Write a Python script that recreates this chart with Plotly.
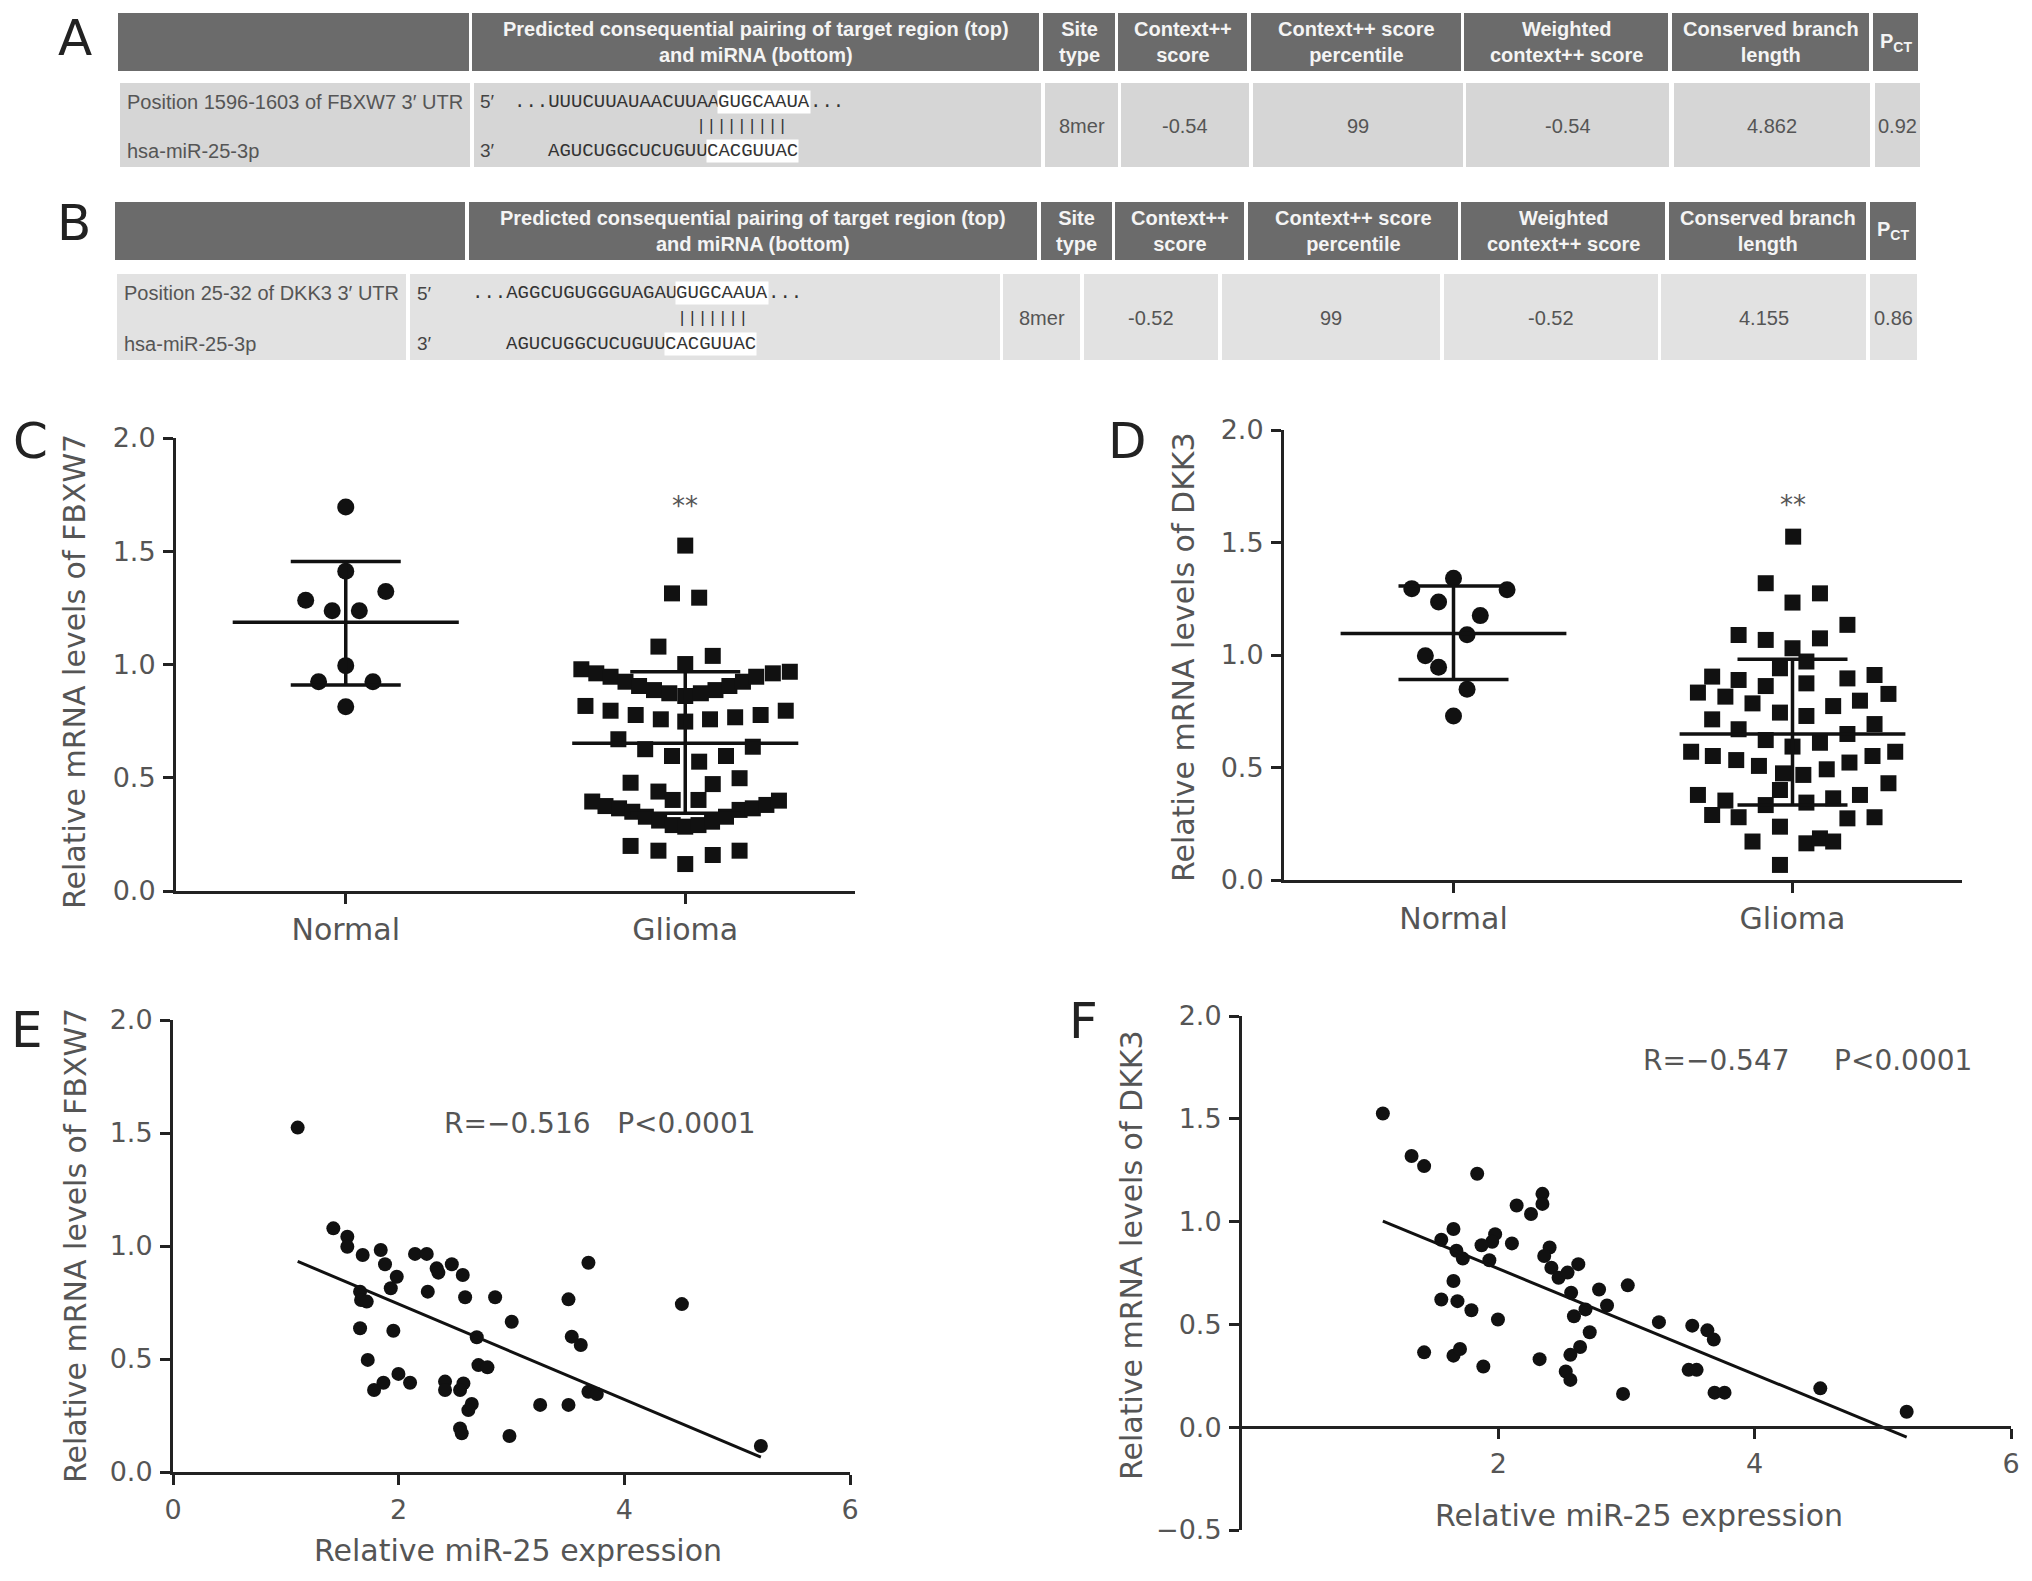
import plotly.graph_objects as go

# reference canvas is 2032x1581; the page body keeps an 8 px margin, so the
# figure is drawn 16 px smaller and every reference pixel is shifted by 8
W, H = 2032, 1581
PAD = 8
FW, FH = W - 2 * PAD, H - 2 * PAD
SANS = "DejaVu Sans"
TAB = "Liberation Sans"
MONO = "Liberation Mono"
MONO_SIZE = 19
CW = 0.6 * MONO_SIZE  # monospace advance width in px
INK = "#111111"
GREY = "#555555"

# ---------------- panels A / B : TargetScan tables ----------------
header_labels = ["", "Predicted consequential pairing of target region (top)<br>and miRNA (bottom)",
                 "Site<br>type", "Context++<br>score", "Context++ score<br>percentile",
                 "Weighted<br>context++ score", "Conserved branch<br>length", "P<sub>CT</sub>"]
site_a = ["Position 1596-1603 of FBXW7 3′ UTR", "hsa-miR-25-3p"]
site_b = ["Position 25-32 of DKK3 3′ UTR", "hsa-miR-25-3p"]
utr_a = [("...UUUCUUAUAACUUAA", False), ("GUGCAAUA", True), ("...", False)]
utr_b = [("...AGGCUGUGGGUAGAU", False), ("GUGCAAUA", True), ("...", False)]
mirna = [("AGUCUGGCUCUGUU", False), ("CACGUUAC", True)]
values_a = ["8mer", "-0.54", "99", "-0.54", "4.862", "0.92"]
values_b = ["8mer", "-0.52", "99", "-0.52", "4.155", "0.86"]

# ---------------- panel C / D : scatter dot plots ----------------
groups = ["Normal", "Glioma"]

c_normal_dx = [0.0, 0.0, 0.118, -0.118, -0.040, 0.040, 0.0, -0.080, 0.080, 0.0]
c_normal_y = [1.695, 1.412, 1.322, 1.284, 1.237, 1.237, 0.995, 0.924, 0.924, 0.813]
c_glioma_dx = [0.0, -0.039, 0.041, -0.079, 0.081, 0.0,
               -0.306, -0.262, -0.220, -0.176, -0.136, -0.092, -0.047, 0.0, 0.046, 0.089, 0.130, 0.170, 0.209, 0.258, 0.308,
               -0.294, -0.220, -0.146, -0.072, 0.0, 0.073, 0.147, 0.222, 0.296,
               -0.197, -0.118, -0.039, 0.041, 0.120, 0.199,
               -0.161, -0.079, -0.037, 0.039, 0.081, 0.160,
               -0.274, -0.235, -0.195, -0.156, -0.116, -0.077, -0.037, 0.0, 0.039, 0.079, 0.120, 0.160, 0.199, 0.239, 0.276,
               -0.161, -0.079, 0.0, 0.081, 0.160]
c_glioma_y = [1.525, 1.314, 1.295, 1.079, 1.038, 1.002,
              0.979, 0.961, 0.946, 0.924, 0.905, 0.887, 0.873, 0.861, 0.873, 0.887, 0.905, 0.924, 0.946, 0.961, 0.968,
              0.817, 0.796, 0.777, 0.758, 0.748, 0.758, 0.767, 0.777, 0.796,
              0.670, 0.626, 0.596, 0.571, 0.596, 0.637,
              0.478, 0.439, 0.402, 0.402, 0.472, 0.498,
              0.395, 0.375, 0.365, 0.350, 0.328, 0.311, 0.291, 0.284, 0.291, 0.306, 0.328, 0.358, 0.365, 0.380, 0.399,
              0.199, 0.178, 0.119, 0.159, 0.178]
c_mean = [1.187, 0.652]
c_upper = [1.455, 0.968]
c_lower = [0.910, 0.343]

d_normal_dx = [0.0, -0.123, 0.158, -0.044, 0.079, 0.040, -0.083, -0.044, 0.040, 0.0]
d_normal_y = [1.341, 1.295, 1.290, 1.236, 1.175, 1.090, 0.997, 0.946, 0.848, 0.729]
d_glioma_dx = [0.002, -0.079, 0.081, 0.0, 0.162, -0.159, -0.079, 0.081, 0.0, 0.041,
               -0.037, -0.237, -0.159, 0.041, 0.162, 0.242, -0.279, -0.198, -0.079, -0.118,
               0.120, 0.199, 0.283, -0.037, 0.041, -0.237, 0.242, -0.159, -0.079, 0.162,
               0.081, 0.0, -0.299, -0.235, -0.166, -0.099, 0.101, 0.168, 0.236, 0.303,
               -0.028, 0.032, -0.037, 0.283, -0.279, -0.198, -0.079, 0.041, 0.120, 0.199,
               -0.237, -0.159, 0.162, 0.242, -0.037, -0.118, 0.041, 0.081, 0.120, -0.037]
d_glioma_y = [1.526, 1.319, 1.274, 1.233, 1.134, 1.089, 1.067, 1.074, 1.030, 0.971,
              0.941, 0.904, 0.889, 0.874, 0.896, 0.911, 0.833, 0.815, 0.862, 0.785,
              0.773, 0.797, 0.827, 0.744, 0.729, 0.714, 0.693, 0.670, 0.622, 0.649,
              0.610, 0.593, 0.570, 0.551, 0.533, 0.507, 0.492, 0.522, 0.551, 0.570,
              0.474, 0.467, 0.400, 0.430, 0.378, 0.353, 0.333, 0.344, 0.363, 0.378,
              0.289, 0.279, 0.274, 0.279, 0.237, 0.171, 0.163, 0.185, 0.171, 0.067]
d_mean = [1.096, 0.649]
d_upper = [1.307, 0.981]
d_lower = [0.891, 0.333]

# ---------------- panel E / F : correlation plots ----------------
e_x = [1.105, 1.421, 1.545, 1.545, 1.681, 1.841, 2.145, 2.249, 1.879, 2.337, 2.352, 2.471, 2.568,
       1.983, 1.930, 1.658, 1.667, 1.717, 2.258, 2.589, 2.855, 3.682, 3.505, 4.510, 3.002, 1.658,
       1.953, 2.692, 3.534, 3.614, 1.726, 2.707, 2.787, 1.998, 2.101, 1.865, 1.782, 2.411, 2.411,
       2.574, 2.544, 3.682, 3.756, 2.648, 2.618, 3.254, 3.505, 2.544, 2.559, 2.982, 5.210]
e_y = [1.524, 1.078, 1.041, 0.997, 0.960, 0.982, 0.965, 0.965, 0.919, 0.901, 0.882, 0.919, 0.872,
       0.864, 0.813, 0.798, 0.761, 0.754, 0.798, 0.773, 0.773, 0.926, 0.764, 0.743, 0.665, 0.636,
       0.625, 0.596, 0.599, 0.562, 0.496, 0.473, 0.463, 0.434, 0.395, 0.395, 0.363, 0.400, 0.363,
       0.392, 0.363, 0.355, 0.345, 0.301, 0.274, 0.297, 0.297, 0.193, 0.171, 0.159, 0.115]
e_fit = (-0.211, 1.165)  # slope, intercept
e_stats = "R=−0.516\u00a0\u00a0\u00a0P<0.0001"

f_x = [1.099, 1.323, 1.421, 1.835, 2.344, 2.344, 2.143, 2.255, 1.650, 1.555, 1.975, 1.952, 1.869,
       2.106, 1.673, 1.723, 1.930, 2.400, 2.358, 2.414, 2.470, 2.540, 2.624, 2.568, 2.786, 3.010,
       2.848, 2.680, 2.590, 1.650, 1.555, 1.681, 1.790, 1.997, 3.253, 3.513, 3.631, 3.681, 2.713,
       2.638, 2.562, 2.322, 1.421, 1.650, 1.701, 1.883, 2.526, 2.562, 3.485, 3.547, 2.973, 3.687,
       3.765, 4.512, 5.186]
f_y = [1.526, 1.319, 1.270, 1.233, 1.135, 1.086, 1.078, 1.037, 0.964, 0.912, 0.939, 0.902, 0.885,
       0.894, 0.858, 0.820, 0.812, 0.874, 0.833, 0.776, 0.727, 0.752, 0.793, 0.654, 0.670, 0.690,
       0.592, 0.573, 0.540, 0.711, 0.621, 0.613, 0.569, 0.524, 0.511, 0.494, 0.471, 0.426, 0.462,
       0.390, 0.352, 0.331, 0.364, 0.348, 0.380, 0.295, 0.271, 0.230, 0.279, 0.279, 0.162, 0.168,
       0.168, 0.189, 0.075]
f_fit = (-0.257, 1.285)
f_stats = "R=−0.547\u00a0\u00a0\u00a0\u00a0\u00a0P<0.0001"


def fx(x):
    return (x - PAD) / FW


def fy(y):
    return 1 - (y - PAD) / FH


shapes = []
annotations = []


def rect(x0, x1, y0, y1, color):
    shapes.append(dict(type="rect", xref="paper", yref="paper", layer="below",
                       x0=fx(x0), x1=fx(x1), y0=fy(y1), y1=fy(y0),
                       fillcolor=color, line=dict(width=0)))


def label(x, y, text, size, color=GREY, family=SANS, xanchor="center", bg=None, angle=0):
    a = dict(xref="paper", yref="paper", x=fx(x), y=fy(y), text=text, showarrow=False,
             xanchor=xanchor, yanchor="middle", textangle=angle,
             font=dict(size=size, color=color, family=family))
    if bg:
        a.update(bgcolor=bg, borderpad=0)
    annotations.append(a)


def seq_line(x, y, parts):
    for txt, hl in parts:
        label(x, y, txt, MONO_SIZE, "#333333", MONO, "left", "white" if hl else None)
        x += len(txt) * CW


def table(head_cols, head_y, row_cols, row_y, row_color, site, utr, values, prime_x, seq_x, bar_from, nbars):
    for (x0, x1), txt in zip(head_cols, header_labels):
        rect(x0, x1, head_y[0], head_y[1], "#6b6b6b")
        if txt:
            label((x0 + x1) / 2, sum(head_y) / 2, "<b>" + txt + "</b>", 20, "#f4f4f4", TAB)
    for x0, x1 in row_cols:
        rect(x0, x1, row_y[0], row_y[1], row_color)
    top, mid, bot = row_y[0] + 19, sum(row_y) / 2 + 1, row_y[1] - 16
    label(row_cols[0][0] + 5, top, site[0], 20, GREY, TAB, "left")
    label(row_cols[0][0] + 5, bot, site[1], 20, GREY, TAB, "left")
    label(prime_x, top, "5′", 19, "#444", TAB, "left")
    label(prime_x, bot, "3′", 19, "#444", TAB, "left")
    seq_line(seq_x, top, utr)
    seq_line(seq_x + 3 * CW, bot, mirna)
    label(seq_x + bar_from * CW, mid, "|" * nbars, MONO_SIZE - 2, "#333333", MONO, "left")
    for (x0, x1), v in zip(row_cols[2:], values):
        label((x0 + x1) / 2, mid, v, 20, GREY, TAB)


table([(118, 469), (472, 1039), (1043, 1115), (1118, 1247), (1251, 1461), (1464, 1668), (1672, 1869), (1873, 1918)],
      (13, 71),
      [(120, 470), (474, 1041), (1045, 1118), (1121, 1249), (1253, 1463), (1466, 1669), (1674, 1870), (1875, 1920)],
      (83, 167), "#d6d6d6", site_a, utr_a, values_a, 478, 512, 16, 9)
table([(115, 465), (469, 1037), (1041, 1112), (1115, 1244), (1248, 1458), (1461, 1665), (1669, 1866), (1870, 1916)],
      (202, 260),
      [(117, 406), (410, 1000), (1003, 1080), (1084, 1218), (1222, 1440), (1444, 1658), (1661, 1866), (1870, 1917)],
      (274, 360), "#e2e2e2", site_b, utr_b, values_b, 415, 470, 18, 7)

# panel letters
for letter, (x, y) in zip("ABCDEF", [(75, 38), (74, 223), (30, 441), (1127, 441), (27, 1030), (1083, 1021)]):
    label(x, y, letter, 50, "#222222")

fig = go.Figure()


def dot_panel(n, norm_dx, norm_y, gli_dx, gli_y, means, uppers, lowers):
    xa, ya = "x" + n, "y" + n
    fig.add_trace(go.Scatter(x=[0 + d for d in norm_dx], y=norm_y, mode="markers", xaxis=xa, yaxis=ya,
                             marker=dict(symbol="circle", size=17, color=INK), cliponaxis=False))
    fig.add_trace(go.Scatter(x=[1 + d for d in gli_dx], y=gli_y, mode="markers", xaxis=xa, yaxis=ya,
                             marker=dict(symbol="square", size=16, color=INK), cliponaxis=False))
    for i in range(2):
        fig.add_trace(go.Scatter(x=[i - 0.333, i + 0.333], y=[means[i], means[i]], mode="lines",
                                 xaxis=xa, yaxis=ya, line=dict(color=INK, width=3.5)))
        fig.add_trace(go.Scatter(x=[i], y=[means[i]], mode="markers", xaxis=xa, yaxis=ya,
                                 marker=dict(color="rgba(0,0,0,0)", size=2),
                                 error_y=dict(type="data", symmetric=False,
                                              array=[uppers[i] - means[i]],
                                              arrayminus=[means[i] - lowers[i]],
                                              width=55, thickness=3.5, color=INK)))


def corr_panel(n, xs, ys, fit):
    xa, ya = "x" + n, "y" + n
    fig.add_trace(go.Scatter(x=xs, y=ys, mode="markers", xaxis=xa, yaxis=ya,
                             marker=dict(symbol="circle", size=14, color=INK), cliponaxis=False))
    x0, x1 = min(xs), max(xs)
    fig.add_trace(go.Scatter(x=[x0, x1], y=[fit[1] + fit[0] * x0, fit[1] + fit[0] * x1], mode="lines",
                             xaxis=xa, yaxis=ya, line=dict(color=INK, width=3), cliponaxis=False))


dot_panel("", c_normal_dx, c_normal_y, c_glioma_dx, c_glioma_y, c_mean, c_upper, c_lower)
dot_panel("2", d_normal_dx, d_normal_y, d_glioma_dx, d_glioma_y, d_mean, d_upper, d_lower)
corr_panel("3", e_x, e_y, e_fit)
corr_panel("4", f_x, f_y, f_fit)

ax = dict(showline=True, linecolor="#222222", linewidth=3, ticks="outside", ticklen=10, tickwidth=3,
          tickcolor="#222222", showgrid=False, zeroline=False, fixedrange=True, automargin=False,
          tickfont=dict(family=SANS, size=27, color=GREY))
cat_x = dict(ax, range=[-0.5, 1.5], tickvals=[0, 1], ticktext=groups, ticklabelstandoff=0,
             tickfont=dict(family=SANS, size=30, color=GREY))
yv = [0, 0.5, 1, 1.5, 2]

fig.update_layout(
    width=FW, height=FH, autosize=False, showlegend=False,
    margin=dict(l=0, r=0, t=0, b=0, pad=0),
    paper_bgcolor="white", plot_bgcolor="white",
    xaxis=dict(cat_x, domain=[fx(176), fx(855)], anchor="y"),
    yaxis=dict(ax, domain=[fy(891), fy(438)], range=[0, 2], tickvals=yv, tickformat=".1f",
               anchor="x", ticklabelstandoff=2),
    xaxis2=dict(cat_x, domain=[fx(1284), fx(1962)], anchor="y2"),
    yaxis2=dict(ax, domain=[fy(880), fy(430)], range=[0, 2], tickvals=yv, tickformat=".1f",
                anchor="x2", ticklabelstandoff=2),
    xaxis3=dict(ax, domain=[fx(173), fx(850)], range=[0, 6], tickvals=[0, 2, 4, 6], anchor="y3",
                ticklabelstandoff=2),
    yaxis3=dict(ax, domain=[fy(1472), fy(1020)], range=[0, 2], tickvals=yv, tickformat=".1f",
                anchor="x3", ticklabelstandoff=2),
    xaxis4=dict(ax, domain=[fx(1242), fx(2011)], range=[0, 6], tickvals=[2, 4, 6], anchor="free",
                position=fy(1427), ticklabelstandoff=2),
    yaxis4=dict(ax, domain=[fy(1530), fy(1016)], range=[-0.5, 2], tickvals=[-0.5] + yv,
                tickformat=".1f", anchor="x4", ticklabelstandoff=2),
)

# axis titles
label(74, 672, "Relative mRNA levels of FBXW7", 30, GREY, angle=-90)
label(1183, 657, "Relative mRNA levels of DKK3", 30, GREY, angle=-90)
label(75, 1246, "Relative mRNA levels of FBXW7", 30, GREY, angle=-90)
label(1131, 1255, "Relative mRNA levels of DKK3", 30, GREY, angle=-90)
label(518, 1550, "Relative miR-25 expression", 30, GREY)
label(1639, 1515, "Relative miR-25 expression", 30, GREY)

# significance marks and statistics
annotations.append(dict(xref="x", yref="y", x=1, y=1.70, text="**", showarrow=False,
                        font=dict(family=SANS, size=26, color=GREY)))
annotations.append(dict(xref="x2", yref="y2", x=1, y=1.665, text="**", showarrow=False,
                        font=dict(family=SANS, size=26, color=GREY)))
annotations.append(dict(xref="x3", yref="y3", x=2.38, y=1.544, text=e_stats, showarrow=False,
                        xanchor="left", font=dict(family=SANS, size=28, color=GREY)))
annotations.append(dict(xref="x4", yref="y4", x=3.11, y=1.785, text=f_stats, showarrow=False,
                        xanchor="left", font=dict(family=SANS, size=28, color=GREY)))

fig.update_layout(shapes=shapes, annotations=annotations)
fig.write_html("out.html")
